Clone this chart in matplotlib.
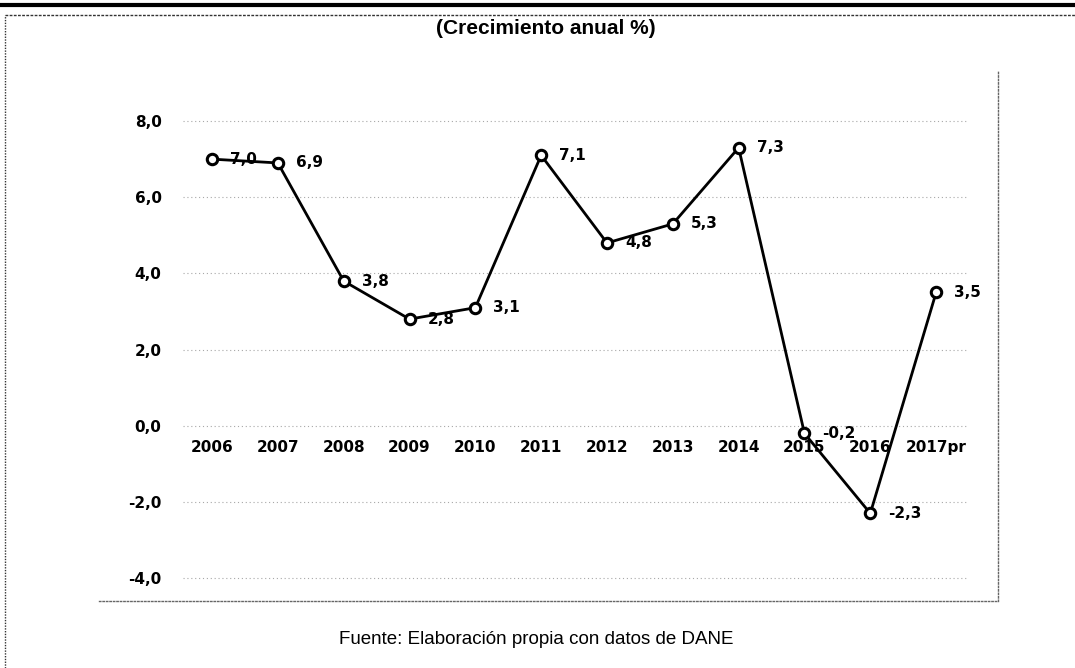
import numpy as np
import matplotlib.pyplot as plt
from matplotlib.lines import Line2D

years = ["2006", "2007", "2008", "2009", "2010", "2011", "2012", "2013",
         "2014", "2015", "2016", "2017pr"]
growth = [7.0, 6.9, 3.8, 2.8, 3.1, 7.1, 4.8, 5.3, 7.3, -0.2, -2.3, 3.5]
yticks = [8.0, 6.0, 4.0, 2.0, 0.0, -2.0, -4.0]

W, H = 1075, 668
fig = plt.figure(figsize=(W / 100, H / 100), dpi=100)

# plot area in pixels: left 99, right 998, top 70, bottom 601
ax = fig.add_axes([99 / W, 1 - 601 / H, 899 / W, 531 / H])
x = np.arange(len(years))

ax.set_xlim(-1.717, 11.94)
ax.set_ylim(-4.6, 9.34)

# faint dotted gridlines
ax.hlines(yticks, -0.44, 11.49, colors="#a8a8a8", linestyles=(0, (1, 2.5)), lw=0.8, zorder=1)

ax.plot(x, growth, color="black", lw=2, marker="o", ms=7.5, mfc="white",
        mec="black", mew=2.2, zorder=3)

fmt = lambda v: f"{v:.1f}".replace(".", ",")
lab_font = dict(fontsize=11, fontfamily="DejaVu Sans", fontweight="bold", color="black")
for xi, v in zip(x, growth):
    ax.annotate(fmt(v), (xi, v), xytext=(13, 0), textcoords="offset points",
                ha="left", va="center", zorder=4, **lab_font)

# category labels sit just under the zero line
for xi, lab in zip(x, years):
    ax.annotate(lab, (xi, 0), xytext=(0, -16), textcoords="offset points",
                ha="center", va="center", zorder=2, **lab_font)

ax.set_xticks([])
ax.set_yticks(yticks)
ax.set_yticklabels([fmt(v) for v in yticks], fontsize=11, fontweight="bold",
                   fontfamily="DejaVu Sans")
ax.tick_params(axis="y", length=0, pad=-45)

for s in ["top", "left"]:
    ax.spines[s].set_visible(False)
for s in ["bottom", "right"]:
    ax.spines[s].set_linestyle((0, (1, 1.5)))
    ax.spines[s].set_color("#666666")
    ax.spines[s].set_linewidth(1)

# outer frame and top rule
fig.add_artist(Line2D([0, 1], [1 - 5 / H, 1 - 5 / H], color="black", lw=3))
fig.add_artist(Line2D([5 / W, 1], [1 - 15 / H, 1 - 15 / H], color="#333333",
                      lw=1, linestyle=(0, (2, 1))))
fig.add_artist(Line2D([5 / W, 5 / W], [0, 1 - 15 / H], color="#333333",
                      lw=1, linestyle=(0, (1, 1))))

fig.text(546 / W, 1 - 29 / H, "(Crecimiento anual %)", ha="center", va="center",
         fontsize=15, fontweight="bold",
         fontfamily=["Liberation Sans", "DejaVu Sans"])
fig.text(536 / W, 1 - 639 / H, "Fuente: Elaboración propia con datos de DANE",
         ha="center", va="center", fontsize=13.5,
         fontfamily=["Liberation Sans", "DejaVu Sans"])

fig.savefig("out.png", dpi=100, facecolor="white")
